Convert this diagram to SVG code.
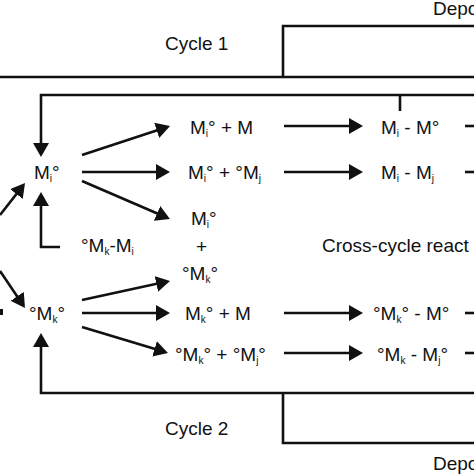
<svg xmlns="http://www.w3.org/2000/svg" width="474" height="474" viewBox="0 0 474 474">
  <defs>
    <style>
      text { font-family: "Liberation Sans", Arial, sans-serif; font-size: 19px; fill: #111; }
      .sub { font-size: 10px; }
      .ln { fill: none; stroke: #111; stroke-width: 2.6; }
      .ar { marker-end: url(#ah); }
    </style>
    <marker id="ah" markerUnits="userSpaceOnUse" markerWidth="14" markerHeight="16" refX="11" refY="8" orient="auto">
      <path d="M0,0 L14,8 L0,16 z" fill="#111"/>
    </marker>
  </defs>
  <rect width="474" height="474" fill="#fff"/>

  <g id="connectors">
    <path class="ln" d="M0,77 H474"/>
    <path class="ln" d="M283,77 V26 H474"/>
    <path class="ln" d="M400,95 V111"/>
    <path class="ln ar" d="M474,95 H41 V154"/>
    <path class="ln ar" d="M60,247 H41 V195"/>
    <path class="ln ar" d="M474,393 H41 V336"/>
    <path class="ln" d="M283,393 V443 H474"/>

    <path class="ln ar" d="M82,155 L167.2,126.9"/>
    <path class="ln ar" d="M82,172 L167,172"/>
    <path class="ln ar" d="M82,181 L167.2,217.8"/>
    <path class="ln ar" d="M82,300 L167.1,281.6"/>
    <path class="ln ar" d="M82,313 L167,313"/>
    <path class="ln ar" d="M82,327 L165.1,352.1"/>

    <path class="ln ar" d="M284,126 L360,126"/>
    <path class="ln ar" d="M284,172 L360,172"/>
    <path class="ln ar" d="M284,313 L360,313"/>
    <path class="ln ar" d="M284,353 L360,353"/>

    <path class="ln ar" d="M0,215 L23.2,185.4"/>
    <path class="ln ar" d="M0,271 L23.3,305.5"/>

    <path class="ln" d="M465,126 H474"/>
    <path class="ln" d="M465,172 H474"/>
    <path class="ln" d="M465,313 H474"/>
    <path class="ln" d="M465,353 H474"/>
    <rect x="0" y="309" width="3" height="6" fill="#111"/>
  </g>

  <g id="label-depo-top"><text x="433" y="15">Depo</text></g>
  <g id="label-cycle1"><text x="165" y="50">Cycle 1</text></g>
  <g id="label-cycle2"><text x="165" y="435">Cycle 2</text></g>
  <g id="label-depo-bottom"><text x="433" y="470">Depo</text></g>

  <g id="node-mi"><text x="34" y="179">M<tspan class="sub" dy="3">i</tspan><tspan dy="-3">°</tspan></text></g>
  <g id="node-mk"><text x="29" y="320">°M<tspan class="sub" dy="3">k</tspan><tspan dy="-3">°</tspan></text></g>
  <g id="node-mkmi"><text x="81" y="252">°M<tspan class="sub" dy="3">k</tspan><tspan dy="-3">-M</tspan><tspan class="sub" dy="3">i</tspan></text></g>

  <g id="node-mi-m"><text x="190" y="134">M<tspan class="sub" dy="3">i</tspan><tspan dy="-3">° + M</tspan></text></g>
  <g id="node-mi-mj"><text x="188" y="179">M<tspan class="sub" dy="3">i</tspan><tspan dy="-3">° + °M</tspan><tspan class="sub" dy="3">j</tspan></text></g>
  <g id="node-cross">
    <text x="191" y="225">M<tspan class="sub" dy="3">i</tspan><tspan dy="-3">°</tspan></text>
    <text x="196" y="253">+</text>
    <text x="182" y="280">°M<tspan class="sub" dy="3">k</tspan><tspan dy="-3">°</tspan></text>
  </g>
  <g id="node-mk-m"><text x="185" y="320">M<tspan class="sub" dy="3">k</tspan><tspan dy="-3">° + M</tspan></text></g>
  <g id="node-mk-mj"><text x="175" y="361">°M<tspan class="sub" dy="3">k</tspan><tspan dy="-3">° + °M</tspan><tspan class="sub" dy="3">j</tspan><tspan dy="-3">°</tspan></text></g>

  <g id="node-p1"><text x="381" y="134">M<tspan class="sub" dy="3">i</tspan><tspan dy="-3"> - M°</tspan></text></g>
  <g id="node-p2"><text x="381" y="179">M<tspan class="sub" dy="3">i</tspan><tspan dy="-3"> - M</tspan><tspan class="sub" dy="3">j</tspan></text></g>
  <g id="node-p3"><text x="373" y="320">°M<tspan class="sub" dy="3">k</tspan><tspan dy="-3">° - M°</tspan></text></g>
  <g id="node-p4"><text x="377" y="361">°M<tspan class="sub" dy="3">k</tspan><tspan dy="-3"> - M</tspan><tspan class="sub" dy="3">j</tspan><tspan dy="-3">°</tspan></text></g>

  <g id="label-cross"><text x="322" y="252">Cross-cycle react</text></g>
</svg>
